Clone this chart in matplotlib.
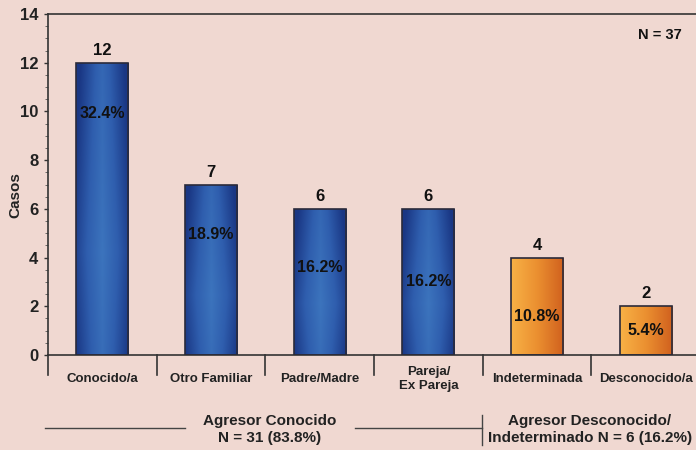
import numpy as np
import matplotlib
matplotlib.use("Agg")
import matplotlib.pyplot as plt
from matplotlib.colors import LinearSegmentedColormap
import matplotlib.transforms as mtrans

plt.rcParams['font.family'] = ['Liberation Sans', 'DejaVu Sans']
plt.rcParams['font.weight'] = 'bold'

categories = ["Conocido/a", "Otro Familiar", "Padre/Madre", "Pareja/\nEx Pareja",
              "Indeterminada", "Desconocido/a"]
values = [12, 7, 6, 6, 4, 2]
percents = ["32.4%", "18.9%", "16.2%", "16.2%", "10.8%", "5.4%"]
group = ["known", "known", "known", "known", "unknown", "unknown"]
pct_label_y = [9.9, 4.95, 3.6, 3.0, 1.6, 1.0]
yticks = [0, 2, 4, 6, 8, 10, 12, 14]

bg = "#F0D8D1"
fig = plt.figure(figsize=(6.96, 4.5), dpi=100, facecolor=bg)
ax = fig.add_axes([48/696, 95/450, 652/696, 341/450])
ax.set_facecolor(bg)

x = np.arange(len(categories))
bars = ax.bar(x, values, width=0.48, color="none", edgecolor="#2a2a3a", linewidth=1.2, zorder=3)

blue = LinearSegmentedColormap.from_list("b", ["#3c74bd", "#2f5eae", "#1a3784"])
orange = LinearSegmentedColormap.from_list("o", ["#f8b246", "#eb8f30", "#d0601e"])

for b, g in zip(bars, group):
    x0, y0 = b.get_x(), b.get_y()
    w, h = b.get_width(), b.get_height()
    if g == "known":
        gx = np.linspace(0, 1, 200)[None, :]
        gy = np.linspace(0, 1, 200)[:, None]
        arr = np.clip(np.abs(gx - 0.5) * 2 * 0.85 + np.abs(gy - 0.35) * 0.45, 0, 1)
        im = ax.imshow(arr, cmap=blue, vmin=0, vmax=1, extent=[x0, x0 + w, y0, y0 + h],
                       aspect="auto", origin="lower", zorder=2)
    else:
        arr = np.linspace(0, 1, 200)[None, :].repeat(2, axis=0)
        im = ax.imshow(arr, cmap=orange, vmin=0, vmax=1, extent=[x0, x0 + w, y0, y0 + h],
                       aspect="auto", origin="lower", zorder=2)
    im.set_clip_path(b)

for xi, v, p, py in zip(x, values, percents, pct_label_y):
    ax.text(xi, v + 0.2, str(v), ha="center", va="bottom", fontsize=12, fontweight="bold", color="#111111", zorder=4)
    ax.text(xi, py, p, ha="center", va="center", fontsize=11.5, fontweight="bold", color="#111111", zorder=4)

ax.set_xlim(-0.5, len(categories) - 0.5)
ax.set_ylim(0, 14)
ax.set_yticks(yticks)
ax.set_yticklabels([str(t) for t in yticks], fontsize=12, fontweight="bold", color="#222222")
ax.set_yticks(np.arange(0, 14.01, 0.5), minor=True)
ax.tick_params(axis="y", which="major", length=3, width=1, color="#333333", pad=4)
ax.tick_params(axis="y", which="minor", length=2, width=0.6, color="#555555")
ax.set_xticks([])
ax.set_ylabel("Casos", fontsize=11, fontweight="bold", color="#222222")
ax.yaxis.set_label_coords(-26/652, 0.47)

for s in ["left", "top", "bottom"]:
    ax.spines[s].set_color("#333333")
    ax.spines[s].set_linewidth(1.2)
ax.spines["right"].set_visible(False)

# category labels and separators below axis
trans = mtrans.blended_transform_factory(ax.transData, ax.transAxes)
for xi, c in zip(x, categories):
    ax.text(xi, -0.07, c, transform=trans, ha="center", va="center", fontsize=9.5, fontweight="bold",
            color="#222222", linespacing=1.2)
for bnd in np.arange(-0.5, len(categories) - 0.5, 1.0):
    ax.plot([bnd, bnd], [0, -0.06], transform=trans, color="#333333", lw=1.2, clip_on=False)

fig.text(660/696, 1 - 35/450, "N = 37", ha="center", va="center", fontsize=10.5, fontweight="bold", color="#111111")

# group annotations
fig.text(270/696, 1 - 421/450, "Agresor Conocido", ha="center", va="center", fontsize=11, fontweight="bold", color="#222222")
fig.text(270/696, 1 - 438/450, "N = 31 (83.8%)", ha="center", va="center", fontsize=11, fontweight="bold", color="#222222")
fig.text(590/696, 1 - 421/450, "Agresor Desconocido/", ha="center", va="center", fontsize=11, fontweight="bold", color="#222222")
fig.text(590/696, 1 - 438/450, "Indeterminado N = 6 (16.2%)", ha="center", va="center", fontsize=11, fontweight="bold", color="#222222")
ly = 1 - 428/450
fig.add_artist(plt.Line2D([45/696, 185/696], [ly, ly], color="#444444", lw=1))
fig.add_artist(plt.Line2D([355/696, 482/696], [ly, ly], color="#444444", lw=1))
fig.add_artist(plt.Line2D([482/696, 482/696], [1 - 415/450, 1 - 445/450], color="#444444", lw=1))

fig.savefig("out.png", dpi=100, facecolor=bg)
